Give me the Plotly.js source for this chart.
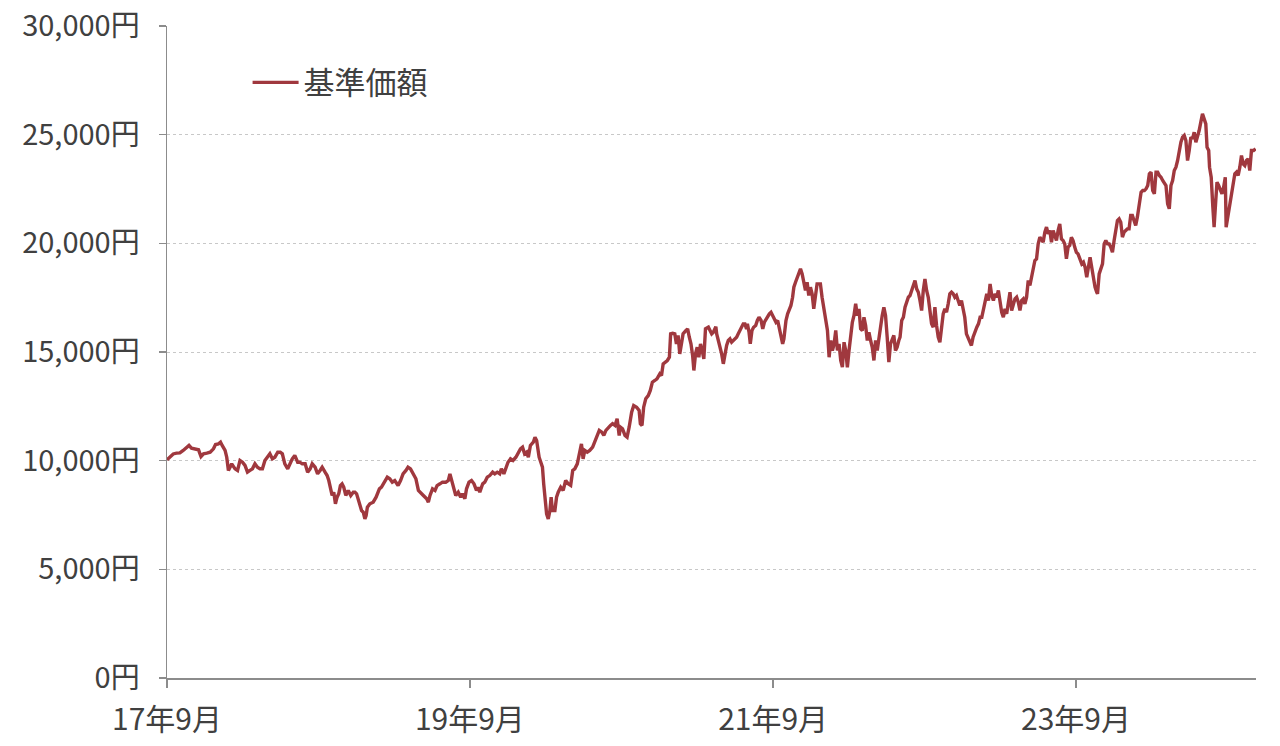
<!DOCTYPE html>
<html>
<head>
<meta charset="utf-8">
<script src="https://cdn.plot.ly/plotly-3.0.1.min.js"></script>
<style>
html,body{margin:0;padding:0;background:#fff;}
#chart{width:1280px;height:746px;}
</style>
</head>
<body>
<div id="chart"></div>
<script>
const seriesName = '基準価額';

const dates = [
'2017-09-01','2017-09-08','2017-09-16','2017-09-24','2017-10-02','2017-10-10','2017-10-18','2017-10-24','2017-10-30','2017-11-08',
'2017-11-16','2017-11-22','2017-11-28','2017-12-06','2017-12-14','2017-12-22','2017-12-27','2018-01-03','2018-01-08','2018-01-12',
'2018-01-19','2018-01-23','2018-01-27','2018-01-31','2018-02-04','2018-02-12','2018-02-18','2018-02-24','2018-03-02','2018-03-08',
'2018-03-14','2018-03-20','2018-03-26','2018-04-01','2018-04-07','2018-04-13','2018-04-19','2018-04-25','2018-05-02','2018-05-07',
'2018-05-13','2018-05-19','2018-05-26','2018-06-01','2018-06-06','2018-06-12','2018-06-19','2018-06-24','2018-06-30','2018-07-06',
'2018-07-13','2018-07-18','2018-07-24','2018-07-31','2018-08-06','2018-08-12','2018-08-17','2018-08-24','2018-08-30','2018-09-05',
'2018-09-10','2018-09-17','2018-09-22','2018-09-26','2018-09-30','2018-10-04','2018-10-08','2018-10-12','2018-10-16','2018-10-20',
'2018-10-24','2018-10-28','2018-11-01','2018-11-06','2018-11-12','2018-11-18','2018-11-24',
'2018-11-28','2018-12-02','2018-12-08','2018-12-14','2018-12-18','2018-12-22','2018-12-25','2018-12-28','2019-01-03','2019-01-11',
'2019-01-18','2019-01-26','2019-01-31','2019-02-08','2019-02-14','2019-02-20','2019-02-26','2019-03-04','2019-03-12','2019-03-18',
'2019-03-24','2019-03-31','2019-04-05','2019-04-11','2019-04-18','2019-04-24','2019-04-30','2019-05-05','2019-05-12','2019-05-20',
'2019-05-24','2019-05-28','2019-06-03','2019-06-09','2019-06-14','2019-06-21','2019-06-27','2019-07-05','2019-07-11','2019-07-15',
'2019-07-19','2019-07-25','2019-07-29','2019-08-04','2019-08-10','2019-08-14','2019-08-20','2019-08-24','2019-08-30','2019-09-05',
'2019-09-11','2019-09-17','2019-09-21','2019-09-25','2019-10-02','2019-10-07','2019-10-13','2019-10-19','2019-10-26','2019-10-31',
'2019-11-06','2019-11-12','2019-11-16','2019-11-22','2019-11-27','2019-12-02','2019-12-08','2019-12-14','2019-12-21','2019-12-27',
'2020-01-01','2020-01-06','2020-01-11','2020-01-16','2020-01-20','2020-01-25','2020-02-01','2020-02-05','2020-02-09',
'2020-02-15','2020-02-18','2020-02-23','2020-02-26','2020-03-01','2020-03-04','2020-03-08','2020-03-12','2020-03-15','2020-03-18',
'2020-03-24','2020-03-28','2020-04-01','2020-04-07','2020-04-13','2020-04-19','2020-04-25','2020-05-01','2020-05-06','2020-05-11',
'2020-05-17','2020-05-22','2020-05-27','2020-05-31','2020-06-04','2020-06-10','2020-06-16','2020-06-23','2020-06-28','2020-07-04',
'2020-07-09','2020-07-15','2020-07-20','2020-07-25','2020-07-31','2020-08-05','2020-08-10','2020-08-16','2020-08-21','2020-08-26',
'2020-08-29','2020-09-03','2020-09-09','2020-09-14','2020-09-19','2020-09-25','2020-09-30','2020-10-07','2020-10-13','2020-10-16',
'2020-10-20','2020-10-24','2020-10-29','2020-11-04','2020-11-09','2020-11-14','2020-11-20','2020-11-25','2020-12-02','2020-12-06',
'2020-12-10','2020-12-14','2020-12-20','2020-12-25','2020-12-28','2021-01-02','2021-01-07','2021-01-11','2021-01-15','2021-01-19',
'2021-01-23','2021-01-27','2021-02-03','2021-02-07','2021-02-11','2021-02-15','2021-02-19','2021-02-22','2021-02-26','2021-03-02',
'2021-03-06','2021-03-10','2021-03-14','2021-03-18','2021-03-22','2021-03-29','2021-04-02','2021-04-06','2021-04-10',
'2021-04-16','2021-04-18','2021-04-22','2021-04-26','2021-04-30','2021-05-04','2021-05-08','2021-05-12','2021-05-16','2021-05-20',
'2021-05-24','2021-05-28','2021-06-01','2021-06-05','2021-06-09','2021-06-13','2021-06-17','2021-06-21','2021-06-25','2021-06-29',
'2021-07-01','2021-07-05','2021-07-08','2021-07-12','2021-07-16','2021-07-21','2021-07-25','2021-07-29','2021-08-03','2021-08-07',
'2021-08-11','2021-08-15','2021-08-19','2021-08-23','2021-08-27','2021-08-31','2021-09-04','2021-09-08','2021-09-12','2021-09-16',
'2021-09-20','2021-09-24','2021-09-27','2021-10-02','2021-10-06','2021-10-10','2021-10-14','2021-10-18','2021-10-21','2021-10-25',
'2021-10-29','2021-11-02','2021-11-06','2021-11-10','2021-11-14','2021-11-18','2021-11-22','2021-11-26','2021-11-30','2021-12-04',
'2021-12-08','2021-12-12','2021-12-16','2021-12-20','2021-12-24','2021-12-28','2022-01-02','2022-01-06','2022-01-10','2022-01-14',
'2022-01-18','2022-01-22','2022-01-26','2022-01-30','2022-02-03','2022-02-07','2022-02-11','2022-02-15','2022-02-19','2022-02-23',
'2022-02-27','2022-03-03','2022-03-07','2022-03-11','2022-03-15','2022-03-19','2022-03-23','2022-03-27','2022-03-31','2022-04-04',
'2022-04-08','2022-04-12','2022-04-16','2022-04-20','2022-04-24','2022-04-28','2022-05-02','2022-05-06','2022-05-10','2022-05-14',
'2022-05-18','2022-05-22','2022-05-26','2022-05-30','2022-06-03','2022-06-07','2022-06-11','2022-06-15','2022-06-19','2022-06-23',
'2022-06-27','2022-07-01',
'2022-07-04','2022-07-08','2022-07-12','2022-07-16','2022-07-20','2022-07-24','2022-07-28','2022-08-01','2022-08-05','2022-08-09',
'2022-08-13','2022-08-17','2022-08-21','2022-08-25','2022-08-29','2022-09-02','2022-09-06','2022-09-10','2022-09-14','2022-09-18',
'2022-09-22','2022-09-26','2022-09-30','2022-10-04','2022-10-08','2022-10-12','2022-10-16','2022-10-20','2022-10-24','2022-10-28',
'2022-11-01','2022-11-05','2022-11-09','2022-11-13','2022-11-17','2022-11-21','2022-11-25','2022-11-29','2022-12-03','2022-12-07',
'2022-12-11','2022-12-15','2022-12-19','2022-12-23','2022-12-27','2023-01-01','2023-01-05','2023-01-09','2023-01-13','2023-01-17',
'2023-01-21','2023-01-25','2023-01-29','2023-02-02','2023-02-06','2023-02-10','2023-02-14','2023-02-18','2023-02-22','2023-02-26',
'2023-03-02','2023-03-06','2023-03-10','2023-03-14','2023-03-18','2023-03-22','2023-03-26','2023-03-30','2023-04-03','2023-04-07',
'2023-04-11','2023-04-15','2023-04-19','2023-04-23','2023-04-27','2023-05-01','2023-05-05','2023-05-09','2023-05-13','2023-05-17',
'2023-05-21','2023-05-25','2023-05-29','2023-06-02','2023-06-06','2023-06-10','2023-06-14','2023-06-18','2023-06-22','2023-06-26',
'2023-06-30','2023-07-04','2023-07-08','2023-07-12','2023-07-16','2023-07-20','2023-07-24','2023-07-28','2023-08-01','2023-08-05',
'2023-08-09','2023-08-13','2023-08-17','2023-08-21','2023-08-25','2023-08-29','2023-09-02','2023-09-06',
'2023-09-11','2023-09-15','2023-09-19','2023-09-23','2023-09-27','2023-10-01','2023-10-05','2023-10-09','2023-10-13','2023-10-17',
'2023-10-21','2023-10-23','2023-10-27','2023-10-31','2023-11-04','2023-11-08','2023-11-12','2023-11-16','2023-11-20','2023-11-24',
'2023-11-28','2023-12-02','2023-12-06','2023-12-10','2023-12-14','2023-12-18','2023-12-22','2023-12-26','2023-12-30','2024-01-03',
'2024-01-07','2024-01-11','2024-01-15','2024-01-19','2024-01-23','2024-01-27','2024-02-01','2024-02-05','2024-02-09','2024-02-13',
'2024-02-17','2024-02-21','2024-02-25','2024-02-29','2024-03-04','2024-03-08','2024-03-12','2024-03-16','2024-03-20','2024-03-24',
'2024-03-28','2024-04-01','2024-04-05','2024-04-09','2024-04-13','2024-04-17','2024-04-21','2024-04-25','2024-04-29','2024-05-03',
'2024-05-07','2024-05-11','2024-05-15','2024-05-19','2024-05-23','2024-05-27','2024-05-31','2024-06-04','2024-06-08','2024-06-12',
'2024-06-16','2024-06-20','2024-06-24','2024-06-28','2024-07-02','2024-07-06','2024-07-10','2024-07-13','2024-07-17','2024-07-19',
'2024-07-23','2024-07-27','2024-07-30','2024-08-03','2024-08-06','2024-08-10','2024-08-14','2024-08-18','2024-08-22','2024-08-26',
'2024-08-28','2024-09-02','2024-09-06','2024-09-10','2024-09-14','2024-09-18','2024-09-22','2024-09-26','2024-09-30','2024-10-04',
'2024-10-08','2024-10-12','2024-10-16','2024-10-20','2024-10-24','2024-10-28','2024-11-02','2024-11-07'
];

const nav = [
10040,10160,10310,10345,10360,10470,10620,10700,10575,10545,
10500,10190,10315,10345,10390,10545,10745,10775,10850,10700,
10470,10160,9550,9700,9855,9625,9550,10010,9930,9780,
9470,9550,9625,9855,9700,9625,9625,10010,10190,10315,
10085,10160,10390,10390,10315,9855,9625,9855,10085,10240,
9930,9930,9855,9855,9470,9625,9855,9700,9395,9550,
9700,9470,9315,9085,8630,8400,8550,8015,8320,8475,
8855,8935,8780,8400,8630,8400,8550,
8550,8475,8015,7705,7630,7325,7475,7860,8015,8090,
8320,8705,8780,9010,9240,9165,9010,9085,8855,9085,
9395,9550,9700,9625,9395,9165,8630,8550,8400,8245,
8090,8400,8705,8630,8855,8935,9010,9010,9085,9395,
9085,8550,8400,8550,8320,8475,8245,8705,9010,9085,
8935,8630,8780,8550,8935,9010,9240,9315,9470,9395,
9470,9395,9625,9395,9700,9930,10085,10010,10160,10390,
10545,10620,10315,10390,10160,10700,10850,11080,10930,
10160,10010,9700,8935,8015,7555,7320,7705,8320,7705,
7705,8320,8550,8780,8630,9090,8935,8860,9550,9625,
9855,10310,10775,10085,10470,10390,10470,10620,10850,11080,
11390,11310,11160,11390,11540,11620,11700,11620,11930,11160,
11540,11465,11160,11080,11540,12230,12540,12460,12310,11700,
11620,12460,12845,12995,13230,13610,13690,13765,13995,13920,
14455,14530,14610,14760,15835,15860,15835,15375,15760,14915,
15530,15835,15990,16065,15680,15375,14840,14150,14915,15220,
14760,15375,15070,14685,16065,16140,15990,15835,15910,
16170,15835,15530,15220,14915,14455,14990,15300,15530,15605,
15450,15530,15605,15680,15835,15990,16220,16295,16295,16065,
16295,15910,15375,15990,16140,16220,16450,16600,16450,16065,
16370,16525,16680,16755,16830,16680,16600,16370,16450,16140,
15760,15375,15605,16450,16755,16985,17140,17520,17980,18210,
18440,18670,18825,18595,18290,17830,18210,17600,17980,17675,
16985,17750,18135,18135,18135,17520,16985,16600,15990,14760,
15530,15070,15375,15990,15070,15375,14610,14300,15450,15070,
14300,15070,15835,16370,16680,17215,16680,16985,16065,15990,
16600,16220,15530,15910,15530,15220,14610,15530,15070,15680,
16065,16680,17060,16680,15680,14530,15375,15530,15760,15070,
15220,15530,
15680,16450,16600,17060,17370,17520,17600,17830,17985,18290,
17905,17750,17370,16910,17830,18365,17830,17520,16910,16295,
16140,17060,16220,15680,15450,16295,16755,16985,16830,17215,
17675,17750,17675,17520,17600,17370,17140,17370,16910,16600,
15835,15680,15530,15300,15680,15990,16140,16295,16600,16600,
16910,17370,17675,17370,18135,17600,17370,17675,17520,17830,
17290,16830,16600,16985,16755,17215,17750,16910,17140,17445,
17520,17290,16910,17370,17445,17215,17520,18290,18060,18520,
18825,19210,19285,19975,20280,20130,20055,20515,20745,20435,
20590,20055,20590,20360,20130,20590,20895,20205,20130,19975,
19285,19825,19900,20280,20130,19825,19590,19515,
19250,19056,19133,18903,18442,19056,19363,18903,18289,17982,
17752,17675,18596,18903,19056,19976,20130,19976,19976,19823,
19593,20130,20743,21050,21126,20973,20283,20513,20590,20666,
20666,21280,21280,21050,20820,21203,21970,22353,22430,22430,
22507,22660,23197,23273,22430,22277,23273,23273,23120,23043,
22890,22737,22660,21817,21587,22660,22890,23350,23504,23810,
24270,24654,24884,24961,24731,23810,24270,24884,24807,25114,
24654,24884,25191,25574,25958,25728,25497,24424,24270,23504,
23043,21663,20743,21970,22813,22660,22507,22277,22583,23043,
20743,21357,21740,22277,22660,23197,23273,23120,23504,24040,
23657,23580,23810,23887,23350,24270,24270,24350
];

const xTickDates = ['2017-09-01','2019-09-01','2021-09-01','2023-09-01'];
const xTickLabels = ['17年9月','19年9月','21年9月','23年9月'];
const yTickValues = [0,5000,10000,15000,20000,25000,30000];
const yTickLabels = ['0円','5,000円','10,000円','15,000円','20,000円','25,000円','30,000円'];

const family = '"Noto Sans CJK JP", "Noto Sans", sans-serif';
const textColor = '#404040';

const trace = {
  type: 'scatter',
  mode: 'lines',
  name: seriesName,
  x: dates,
  y: nav,
  line: {color: '#a0383e', width: 3.4},
  hoverinfo: 'x+y'
};

const layout = {
  width: 1280,
  height: 746,
  paper_bgcolor: '#ffffff',
  plot_bgcolor: '#ffffff',
  font: {family: family, size: 29, color: textColor},
  margin: {l: 167, r: 24, t: 26, b: 68, pad: 0},
  showlegend: true,
  legend: {
    x: 0.074, y: 0.913, xanchor: 'left', yanchor: 'middle',
    bgcolor: 'rgba(0,0,0,0)', borderwidth: 0,
    font: {family: family, size: 31, color: textColor},
    itemwidth: 46
  },
  xaxis: {
    type: 'date',
    range: ['2017-09-01', '2024-11-08'],
    tickmode: 'array',
    tickvals: xTickDates,
    ticktext: xTickLabels,
    showgrid: false,
    zeroline: false,
    showline: true,
    linecolor: '#8c8c8c',
    linewidth: 1.5,
    ticks: 'outside',
    ticklen: 8,
    tickwidth: 1.5,
    tickcolor: '#8c8c8c',
    ticklabelstandoff: 6,
    tickfont: {family: family, size: 30, color: textColor}
  },
  yaxis: {
    range: [0, 30000],
    tickmode: 'array',
    tickvals: yTickValues,
    ticktext: yTickLabels,
    showgrid: true,
    gridcolor: '#c8c8c8',
    griddash: 'dot',
    gridwidth: 1,
    zeroline: false,
    showline: true,
    linecolor: '#8c8c8c',
    linewidth: 1.5,
    ticks: 'outside',
    ticklen: 7,
    tickwidth: 1.5,
    tickcolor: '#8c8c8c',
    ticklabelstandoff: 13,
    tickfont: {family: family, size: 29, color: textColor}
  }
};

Plotly.newPlot('chart', [trace], layout, {displayModeBar: false, staticPlot: true});
</script>
</body>
</html>
